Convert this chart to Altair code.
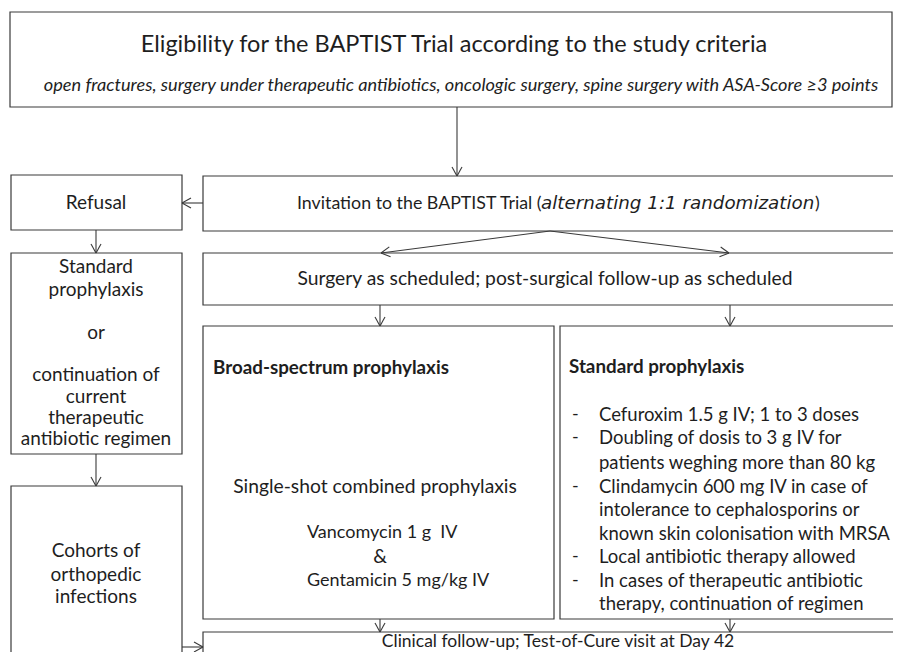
import math
import altair as alt
import pandas as pd

# ---------------- data: boxes (reference pixel frame) ----------------
box_x1 = [10, 11, 11, 11, 203, 203, 203, 560, 203]
box_x2 = [892, 182, 182, 182, 915, 915, 554, 915, 915]
box_y1 = [12, 175, 253, 486, 176, 253, 326, 326, 632]
box_y2 = [107, 230, 454, 675, 231, 305, 619, 619, 675]

# ---------------- data: arrows (start -> tip) ----------------
arr_x1 = [457, 203, 96, 96, 550, 550, 380, 730, 380, 730, 182]
arr_y1 = [107, 203, 230, 454, 231, 231, 305, 305, 619, 619, 647]
arr_x2 = [457, 182, 96, 96, 381, 729, 380, 730, 380, 730, 203]
arr_y2 = [176, 203, 253, 486, 253, 253, 326, 326, 632, 632, 647]

# ---------------- data: text ----------------
title_text = ["Eligibility for the BAPTIST Trial according to the study criteria"]
title_x = [454]
title_y = [45]

subtitle_text = ["open fractures, surgery under therapeutic antibiotics, oncologic surgery, spine surgery with ASA-Score \u22653 points"]
subtitle_x = [461]
subtitle_y = [86]

left_col_text = ["Refusal", "Standard", "prophylaxis", "or", "continuation of", "current",
                 "therapeutic", "antibiotic regimen", "Cohorts of", "orthopedic", "infections"]
left_col_x = [96] * 11
left_col_y = [203, 267, 290, 333, 375, 397, 418, 439, 551, 575, 597]

mid_text = ["Surgery as scheduled; post-surgical follow-up as scheduled",
            "Single-shot combined prophylaxis", "&"]
mid_x = [545, 375, 380]
mid_y = [279, 487, 557]

clin_text = ["Clinical follow-up; Test-of-Cure visit at Day 42"]
clin_x = [558]
clin_y = [642]

inv_text = ["Invitation to the BAPTIST Trial (", ")"]
inv_x = [297, 815]
inv_y = [204, 204]

drug_text = ["Vancomycin 1 g\u00a0 IV", "Gentamicin 5 mg/kg IV"]
drug_x = [307, 307]
drug_y = [533, 581]

bold_text = ["Broad-spectrum prophylaxis", "Standard prophylaxis"]
bold_x = [213, 569]
bold_y = [368, 367]

italic2_text = ["alternating 1:1 randomization"]
italic2_x = [541]
italic2_y = [204]

bullet_text = ["Cefuroxim 1.5 g IV; 1 to 3 doses",
               "Doubling of dosis to 3 g IV for",
               "patients weghing more than 80 kg",
               "Clindamycin 600 mg IV in case of",
               "intolerance to cephalosporins or",
               "known skin colonisation with MRSA",
               "Local antibiotic therapy allowed",
               "In cases of therapeutic antibiotic",
               "therapy, continuation of regimen"]
bullet_dash = [True, True, False, True, False, False, True, True, False]
bullet_y = [415, 438, 463, 487, 510, 534, 557, 581, 604]
bullet_x = 599
dash_x = 572

# ---------------- build tables ----------------
INK = "#1e1e1e"
LINE = "#3a3a3a"
FONT = "Lato"

# page is 901x660 with an 8px margin: plot area covers reference pixels 8..893, 8..652
xs = alt.Scale(domain=[8, 893], range=[0, 885], clamp=False)
ys = alt.Scale(domain=[652, 8], clamp=False)

boxes = pd.DataFrame({"x1": box_x1, "x2": box_x2, "y1": box_y1, "y2": box_y2})

seg_rows = []
L, W = 9, 5
for x1, y1, x2, y2 in zip(arr_x1, arr_y1, arr_x2, arr_y2):
    seg_rows.append((x1, y1, x2, y2))
    dx, dy = x2 - x1, y2 - y1
    n = math.hypot(dx, dy)
    ux, uy = dx / n, dy / n
    px, py = -uy, ux
    bx, by = x2 - L * ux, y2 - L * uy
    seg_rows.append((bx + W * px, by + W * py, x2, y2))
    seg_rows.append((bx - W * px, by - W * py, x2, y2))
segs = pd.DataFrame(seg_rows, columns=["x1", "y1", "x2", "y2"])


def tdf(texts, xs_, ys_):
    return pd.DataFrame({"t": texts, "x": xs_, "y": ys_})


bullets = tdf(bullet_text, [bullet_x] * len(bullet_text), bullet_y)
dashes = tdf(["-" for d in bullet_dash if d], [dash_x] * sum(bullet_dash),
             [y for y, d in zip(bullet_y, bullet_dash) if d])


def X(f="x"):
    return alt.X(f, type="quantitative", scale=xs, axis=None)


def Y(f="y"):
    return alt.Y(f, type="quantitative", scale=ys, axis=None)


rects = alt.Chart(boxes).mark_rect(fill="white", stroke=LINE, strokeWidth=1.2).encode(
    x=X("x1"), x2="x2", y=Y("y1"), y2="y2")

rules = alt.Chart(segs).mark_rule(color=LINE, strokeWidth=1.1).encode(
    x=X("x1"), y=Y("y1"), x2="x2", y2="y2")


def txt(df, size, align="center", font=FONT, style=None, weight=None):
    kw = dict(align=align, baseline="middle", font=font, fontSize=size, color=INK)
    if style:
        kw["fontStyle"] = style
    if weight:
        kw["fontWeight"] = weight
    return alt.Chart(df).mark_text(**kw).encode(x=X(), y=Y(), text="t:N")


layers = [
    rects, rules,
    txt(tdf(title_text, title_x, title_y), 23.5),
    txt(tdf(subtitle_text, subtitle_x, subtitle_y), 18.2, style="italic"),
    txt(tdf(left_col_text, left_col_x, left_col_y), 19),
    txt(tdf(mid_text, mid_x, mid_y), 19.3),
    txt(tdf(clin_text, clin_x, clin_y), 17.5),
    txt(tdf(inv_text, inv_x, inv_y), 17.8, align="left"),
    txt(tdf(drug_text, drug_x, drug_y), 18, align="left"),
    txt(tdf(italic2_text, italic2_x, italic2_y), 18.3, align="left", font="DejaVu Sans", style="italic"),
    txt(tdf(bold_text, bold_x, bold_y), 18.8, align="left", weight="bold"),
    txt(bullets, 18.5, align="left"),
    txt(dashes, 18, align="left"),
]

chart = alt.layer(*layers).properties(
    width=885, height=644, padding=0,
    autosize=alt.AutoSizeParams(type="none"),
    background="white",
).configure_view(stroke=None)

chart.save("out.html", embed_options={"renderer": "svg", "actions": False})
